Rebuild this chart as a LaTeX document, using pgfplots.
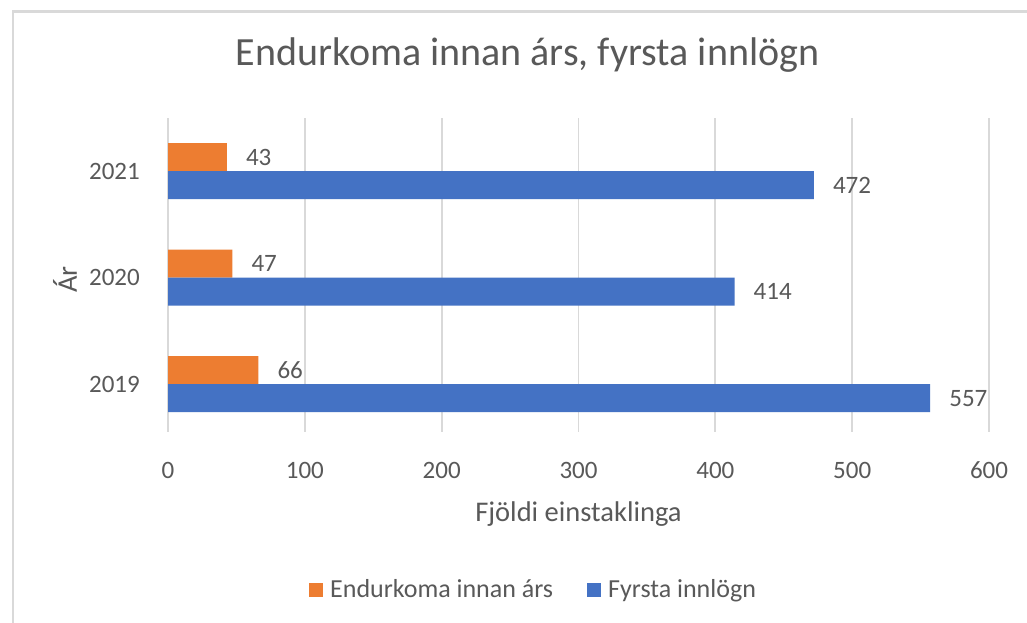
\documentclass[border=0pt]{standalone}
\usepackage{fontspec}
\setmainfont{Carlito}
\usepackage{pgfplots}
\pgfplotsset{compat=1.18}
\definecolor{orng}{HTML}{ED7D31}
\definecolor{blu}{HTML}{4472C4}
\definecolor{grd}{HTML}{D9D9D9}
\definecolor{txt}{HTML}{595959}
\newcommand{\lbl}{\fontsize{25}{30}\selectfont}
\newcommand{\ttl}{\fontsize{28.5}{34}\selectfont}
\begin{document}
\begin{tikzpicture}[x=1pt,y=1pt]
\useasboundingbox (0,0) rectangle (1027,623);
\fill[white] (0,0) rectangle (1027,623);
\draw[grd, line width=2.5pt] (13,0) -- (13,611.5) -- (1027,611.5);
\begin{axis}[
    at={(168pt,191pt)}, anchor=south west,
    scale only axis, width=821pt, height=314pt,
    xbar, bar width=28pt,
    xmin=0, xmax=600,
    ymin=-0.45, ymax=2.5,
    ytick={0,1,2}, yticklabels={2019,2020,2021},
    xtick={0,100,...,600},
    xmajorgrids,
    grid style={grd, line width=1.8pt},
    axis line style={draw=none},
    major tick length=0pt,
    tick label style={font=\lbl, text=txt, inner sep=0pt},
    xticklabel style={anchor=base, yshift=-46pt},
    yticklabel style={anchor=east, xshift=-28pt},
    /pgf/number format/assume math mode=true,
    nodes near coords,
    every node near coord/.append style={font=\lbl, text=txt, anchor=west, inner sep=0pt, xshift=19pt},
    title={Endurkoma innan árs, fyrsta innlögn},
    title style={font=\fontsize{40}{48}\selectfont, text=txt, inner sep=0pt,
        at={(axis description cs:0.438,1)}, anchor=base, yshift=46pt},
    xlabel={Fjöldi einstaklinga},
    xlabel style={font=\ttl, text=txt, inner sep=0pt,
        at={(axis description cs:0.5,0)}, anchor=base, yshift=-89pt},
    ylabel={Ár},
    ylabel style={font=\ttl, text=txt, inner sep=0pt,
        at={(axis description cs:0,0.4857)}, anchor=base, yshift=91pt},
    legend columns=2,
    legend image code/.code={\fill[#1] (0pt,-7pt) rectangle (14pt,7pt);},
    legend style={draw=none, fill=none, inner sep=0pt,
        font=\fontsize{26}{31}\selectfont, text=txt,
        at={(axis description cs:0.1717,-0.5016)}, anchor=west,
        /tikz/every odd column/.append style={column sep=7pt},
        /tikz/every even column/.append style={column sep=34pt},
        nodes={inner sep=0pt}},
]
\addplot[fill=orng, draw=none, bar shift=14pt] coordinates {(66,0) (47,1) (43,2)};
\addlegendentry{Endurkoma innan árs}
\addplot[fill=blu, draw=none, bar shift=-14pt] coordinates {(557,0) (414,1) (472,2)};
\addlegendentry{Fyrsta innlögn}
\end{axis}
\end{tikzpicture}
\end{document}
